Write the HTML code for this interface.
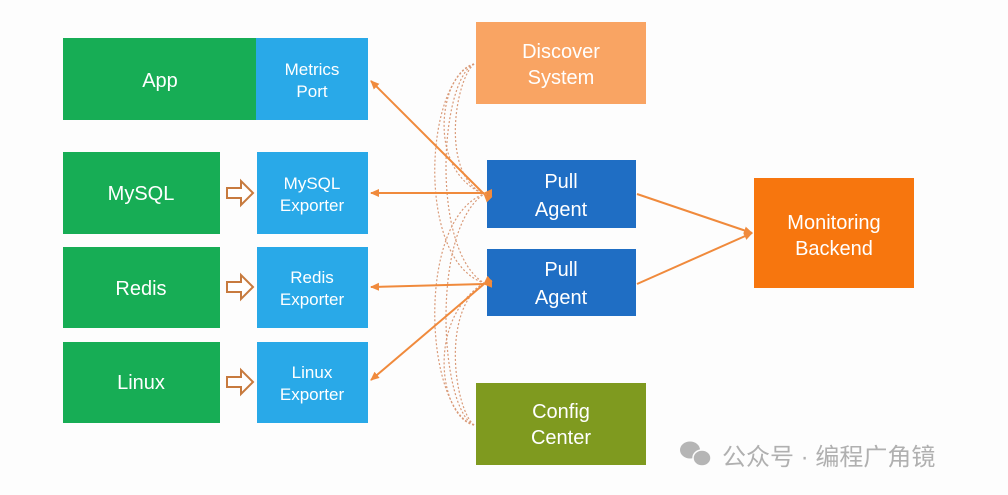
<!DOCTYPE html>
<html><head><meta charset="utf-8"><style>
html,body{margin:0;padding:0;background:#fff;}
svg{display:block}
text{font-family:"Liberation Sans","Noto Sans CJK SC",sans-serif;fill:#fff;text-anchor:middle}
</style></head><body>
<svg width="1008" height="495" viewBox="0 0 1008 495" xmlns="http://www.w3.org/2000/svg">
<defs>
<marker id="ah" markerWidth="10" markerHeight="10" refX="8" refY="5" orient="auto" markerUnits="userSpaceOnUse">
<path d="M0,1 L9,5 L0,9 z" fill="#f08a3c"/></marker>
</defs>
<rect width="1008" height="495" fill="#fdfdfd"/>
<rect x="63" y="38" width="193" height="82" fill="#17ad55"/>
<text x="160" y="87" font-size="20">App</text>
<rect x="256" y="38" width="112" height="82" fill="#29a9e8"/>
<text x="312" y="75" font-size="17">Metrics</text>
<text x="312" y="97" font-size="17">Port</text>

<rect x="63" y="152" width="157" height="82" fill="#17ad55"/>
<text x="141" y="200" font-size="20">MySQL</text>
<rect x="257" y="152" width="111" height="82" fill="#29a9e8"/>
<text x="312" y="189" font-size="17">MySQL</text>
<text x="312" y="211" font-size="17">Exporter</text>

<rect x="63" y="247" width="157" height="81" fill="#17ad55"/>
<text x="141" y="295" font-size="20">Redis</text>
<rect x="257" y="247" width="111" height="81" fill="#29a9e8"/>
<text x="312" y="283" font-size="17">Redis</text>
<text x="312" y="305" font-size="17">Exporter</text>

<rect x="63" y="342" width="157" height="81" fill="#17ad55"/>
<text x="141" y="389" font-size="20">Linux</text>
<rect x="257" y="342" width="111" height="81" fill="#29a9e8"/>
<text x="312" y="378" font-size="17">Linux</text>
<text x="312" y="400" font-size="17">Exporter</text>

<g fill="#fff" stroke="#c77a3e" stroke-width="2">
<path d="M227,188 h14 v-7 l12,12 l-12,12 v-7 h-14 z"/>
<path d="M227,282 h14 v-7 l12,12 l-12,12 v-7 h-14 z"/>
<path d="M227,377 h14 v-7 l12,12 l-12,12 v-7 h-14 z"/>
</g>

<rect x="476" y="22" width="170" height="82" fill="#f9a463"/>
<text x="561" y="58" font-size="20">Discover</text>
<text x="561" y="84" font-size="20">System</text>
<rect x="487" y="160" width="149" height="68" fill="#1f6ec4"/>
<text x="561" y="188" font-size="20">Pull</text>
<text x="561" y="216" font-size="20">Agent</text>
<rect x="487" y="249" width="149" height="67" fill="#1f6ec4"/>
<text x="561" y="276" font-size="20">Pull</text>
<text x="561" y="304" font-size="20">Agent</text>
<rect x="476" y="383" width="170" height="82" fill="#7f9a1f"/>
<text x="561" y="418" font-size="20">Config</text>
<text x="561" y="444" font-size="20">Center</text>
<rect x="754" y="178" width="160" height="110" fill="#f7760e"/>
<text x="834" y="229" font-size="20">Monitoring</text>
<text x="834" y="255" font-size="20">Backend</text>

<g fill="none" stroke="#d99a78" stroke-width="1.2" stroke-dasharray="2,2">
<path d="M474,64 C440,72 425,170 484,194"/>
<path d="M474,64 C455,80 440,175 484,194"/>
<path d="M474,64 C425,80 415,260 484,283"/>
<path d="M474,64 C440,80 430,250 484,283"/>
<path d="M474,425 C440,418 425,320 484,283"/>
<path d="M474,425 C455,410 440,310 484,283"/>
<path d="M474,425 C425,410 415,220 484,194"/>
<path d="M474,425 C440,410 430,230 484,194"/>
</g>

<g stroke="#f08a3c" stroke-width="2" fill="none">
<line x1="484" y1="194" x2="371" y2="81" marker-end="url(#ah)" marker-start="url(#ah)"/>
<line x1="484" y1="193" x2="371" y2="193" marker-end="url(#ah)" marker-start="url(#ah)"/>
<line x1="484" y1="284" x2="371" y2="287" marker-end="url(#ah)" marker-start="url(#ah)"/>
<line x1="484" y1="284" x2="371" y2="380" marker-end="url(#ah)" marker-start="url(#ah)"/>
<line x1="637" y1="194" x2="752" y2="233" marker-end="url(#ah)"/>
<line x1="637" y1="284" x2="752" y2="233" marker-end="url(#ah)"/>
</g>

<g fill="#b5b5b5">
<ellipse cx="690" cy="450" rx="10" ry="8.5"/>
<ellipse cx="702" cy="458" rx="9" ry="8" stroke="#fdfdfd" stroke-width="1.5"/>
</g>
<text x="722" y="465" font-size="24" style="fill:#b0b0b0;text-anchor:start">公众号 · 编程广角镜</text>
</svg>
</body></html>
